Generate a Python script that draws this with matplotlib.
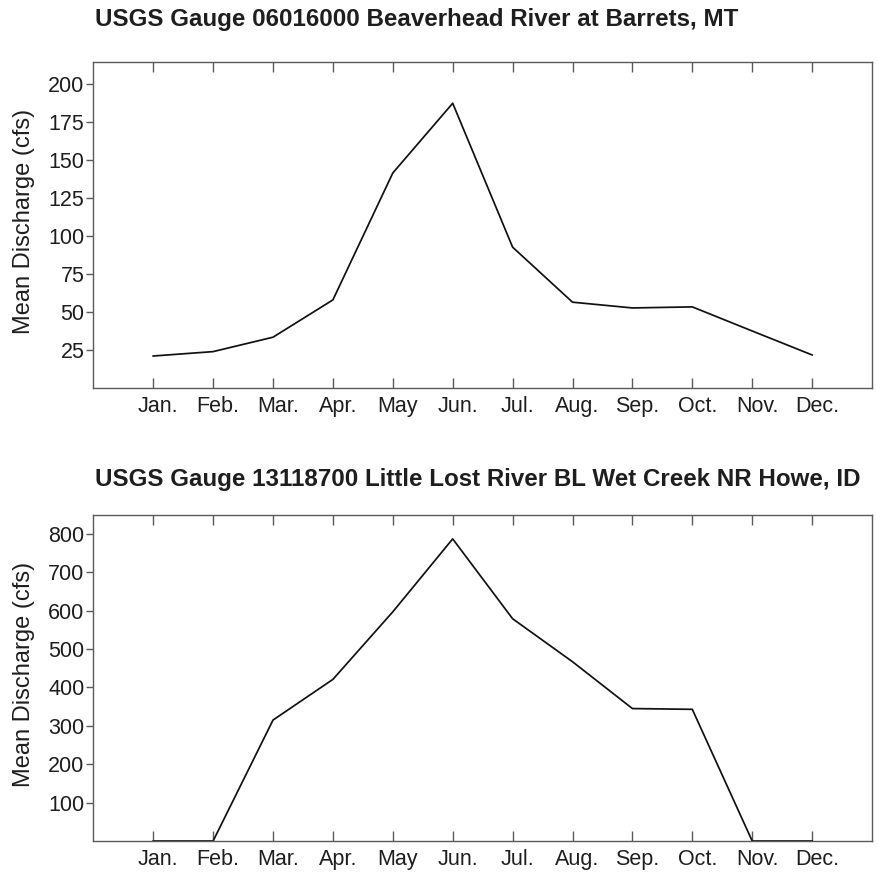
import matplotlib
matplotlib.use("Agg")
import matplotlib.pyplot as plt
from matplotlib.transforms import ScaledTranslation

plt.rcParams['font.family'] = ['Liberation Sans', 'DejaVu Sans']

months = ["Jan.", "Feb.", "Mar.", "Apr.", "May", "Jun.",
          "Jul.", "Aug.", "Sep.", "Oct.", "Nov.", "Dec."]
month_index = list(range(1, 13))

# Mean monthly discharge (cfs)
beaverhead_cfs = [20.9, 23.8, 33.3, 57.9, 141.6, 187.6,
                  92.7, 56.4, 52.6, 53.3, 37.4, 21.6]
little_lost_cfs = [0, 0, 315, 421, 597, 787,
                   579, 467, 345, 343, 0, 0]

titles = ["USGS Gauge 06016000 Beaverhead River at Barrets, MT",
          "USGS Gauge 13118700 Little Lost River BL Wet Creek NR Howe, ID"]
top_yticks = [25, 50, 75, 100, 125, 150, 175, 200]
bottom_yticks = [100, 200, 300, 400, 500, 600, 700, 800]

W, H = 877, 873
fig = plt.figure(figsize=(W / 100, H / 100), dpi=100)

frame_color = "#5a5a5a"
text_color = "#1e1e1e"


def make_axes(top_px, bottom_px):
    left_px, right_px = 93.3, 872.0
    return fig.add_axes([left_px / W, 1 - bottom_px / H,
                         (right_px - left_px) / W, (bottom_px - top_px) / H])


def style(ax, values, yticks, ylim, title, title_base_px):
    ax.plot(month_index, values, color="#111111", lw=1.25)
    ax.set_xlim(0, 13)
    ax.set_ylim(*ylim)
    ax.set_xticks(month_index)
    ax.set_xticklabels(months)
    ax.set_yticks(yticks)
    ax.set_yticklabels([str(v) for v in yticks])
    for sp in ax.spines.values():
        sp.set_color(frame_color)
        sp.set_linewidth(1.0)
    ax.tick_params(axis="x", direction="in", top=True, bottom=True,
                   length=7, width=1.0, color=frame_color,
                   labelsize=15.5, labelcolor=text_color, pad=6)
    ax.tick_params(axis="y", direction="out", left=True, right=False,
                   length=5, width=1.0, color=frame_color,
                   labelsize=15.5, labelcolor=text_color, pad=1.5)
    shift = ScaledTranslation(5 / 100, 0, fig.dpi_scale_trans)
    for tick in ax.xaxis.get_major_ticks():
        tick.label1.set_transform(tick.label1.get_transform() + shift)
    ax.set_ylabel("Mean Discharge (cfs)", fontsize=17, color=text_color)
    ax.yaxis.set_label_coords(-0.075, 0.51)
    fig.text(95 / W, 1 - title_base_px / H, title, fontsize=17.4,
             fontweight="bold", color=text_color, va="baseline", ha="left")


ax1 = make_axes(61.7, 387.7)
style(ax1, beaverhead_cfs, top_yticks, (0, 215), titles[0], 26)

ax2 = make_axes(514.7, 841.0)
style(ax2, little_lost_cfs, bottom_yticks, (0, 850), titles[1], 486)

fig.savefig("out.png", dpi=100)
